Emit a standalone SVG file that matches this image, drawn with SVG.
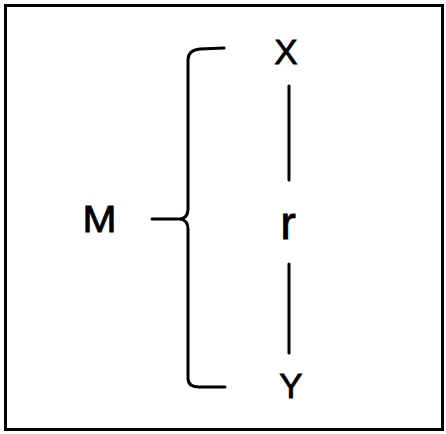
<svg xmlns="http://www.w3.org/2000/svg" width="446" height="434" viewBox="0 0 446 434">
<style>
.t{font-family:"Liberation Sans",Arial,sans-serif;fill:#000;text-anchor:middle;stroke:#000;stroke-width:0.8}
.l{fill:none;stroke:#000;stroke-width:3;stroke-linecap:round;stroke-linejoin:round}
</style>
<rect x="5.5" y="5.5" width="437" height="424" fill="#fff" stroke="#000" stroke-width="3"/>
<g id="node-M"><text class="t" x="99.5" y="232" font-size="36" textLength="34" lengthAdjust="spacingAndGlyphs">M</text></g>
<g id="node-X"><text class="t" x="286" y="64" font-size="35">X</text></g>
<g id="node-r"><text class="t" x="288" y="239" font-size="47">r</text></g>
<g id="node-Y"><text class="t" x="291" y="398" font-size="35">Y</text></g>
<g id="connectors">
<path class="l" d="M224 48 L200 49 Q188 50 188 60 L188 209 Q188 218 180 219 L152 219 M180 219 Q188 220 188 229 L188 378 Q188 387 199 387 L225 387"/>
<line class="l" x1="289" y1="86" x2="289" y2="180" stroke-width="2.5"/>
<line class="l" x1="289" y1="264" x2="289" y2="353" stroke-width="2.5"/>
</g>
</svg>
